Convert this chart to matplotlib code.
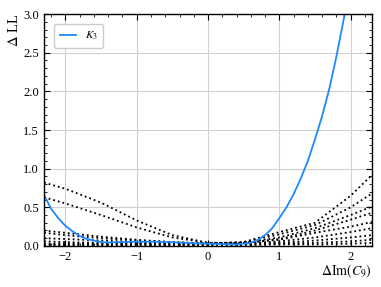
import numpy as np
import matplotlib
matplotlib.use("Agg")
import matplotlib.pyplot as plt
from matplotlib.ticker import MultipleLocator

plt.rcParams["font.family"] = ["Liberation Serif", "DejaVu Serif"]
plt.rcParams["mathtext.fontset"] = "stix"

# blue K3 scan
k3_x = [-2.3, -2.2, -2.1, -2.0, -1.9, -1.8, -1.7, -1.6, -1.5, -1.4, -1.2, -1.0,
        -0.8, -0.6, -0.4, -0.2, 0.0, 0.2, 0.4, 0.6, 0.7, 0.8, 0.9, 1.0, 1.1,
        1.2, 1.3, 1.4, 1.5, 1.6, 1.7, 1.8, 1.9, 2.0]
k3_y = [0.66, 0.48, 0.36, 0.26, 0.19, 0.13, 0.09, 0.07, 0.05, 0.045, 0.05, 0.055,
        0.055, 0.05, 0.045, 0.035, 0.03, 0.025, 0.02, 0.04, 0.08, 0.14, 0.23, 0.36,
        0.50, 0.67, 0.87, 1.10, 1.38, 1.68, 2.03, 2.45, 2.92, 3.40]

# other scans (dotted)
dot_x = [-2.3, -2.0, -1.5, -1.0, -0.5, 0.0, 0.5, 1.0, 1.5, 2.0, 2.3]
dot_lines = [
    [0.82, 0.74, 0.56, 0.33, 0.14, 0.04, 0.04, 0.09, 0.20, 0.34, 0.43],
    [0.63, 0.55, 0.40, 0.24, 0.11, 0.04, 0.04, 0.08, 0.17, 0.25, 0.31],
    [0.20, 0.17, 0.12, 0.08, 0.05, 0.03, 0.05, 0.18, 0.30, 0.65, 0.92],
    [0.17, 0.14, 0.10, 0.07, 0.05, 0.03, 0.05, 0.15, 0.27, 0.50, 0.68],
    [0.10, 0.09, 0.07, 0.05, 0.04, 0.03, 0.04, 0.11, 0.23, 0.40, 0.51],
    [0.06, 0.05, 0.04, 0.04, 0.03, 0.03, 0.03, 0.06, 0.11, 0.18, 0.23],
    [0.03, 0.03, 0.03, 0.03, 0.02, 0.02, 0.03, 0.04, 0.07, 0.11, 0.14],
    [0.02, 0.02, 0.02, 0.02, 0.02, 0.02, 0.02, 0.03, 0.04, 0.06, 0.08],
    [0.01, 0.01, 0.01, 0.01, 0.01, 0.01, 0.01, 0.02, 0.02, 0.03, 0.04],
]

fig = plt.figure(figsize=(3.81, 2.87), dpi=100)
ax = fig.add_axes([0.1155, 0.143, 0.861, 0.808])

for ys in dot_lines:
    ax.plot(dot_x, ys, color="k", ls=":", lw=1.3)
ax.plot(k3_x, k3_y, color="#1e88ff", lw=1.3, label="$K_3$")

ax.set_xlim(-2.3, 2.3)
ax.set_ylim(0, 3.0)
ax.xaxis.set_major_locator(MultipleLocator(1))
ax.xaxis.set_minor_locator(MultipleLocator(0.2))
ax.yaxis.set_major_locator(MultipleLocator(0.5))
ax.yaxis.set_minor_locator(MultipleLocator(0.1))
ax.tick_params(which="both", direction="in", top=True, right=True, labelsize=9)
ax.tick_params(which="major", length=4, width=0.8)
ax.tick_params(which="minor", length=2, width=0.6)
ax.grid(color="#d0d0d0", lw=0.8)
ax.set_axisbelow(True)
for s in ax.spines.values():
    s.set_linewidth(1.0)

ax.set_xlabel(r"$\Delta\mathrm{Im}(C_9)$", fontsize=10, loc="right", labelpad=0)
ax.set_ylabel(r"$\Delta$ LL", fontsize=10.5, loc="top", labelpad=2)
ax.legend(loc="upper left", fontsize=8, fancybox=True, framealpha=1,
          handlelength=1.5, borderpad=0.5, borderaxespad=0.9)

fig.savefig("out.png", dpi=100)
